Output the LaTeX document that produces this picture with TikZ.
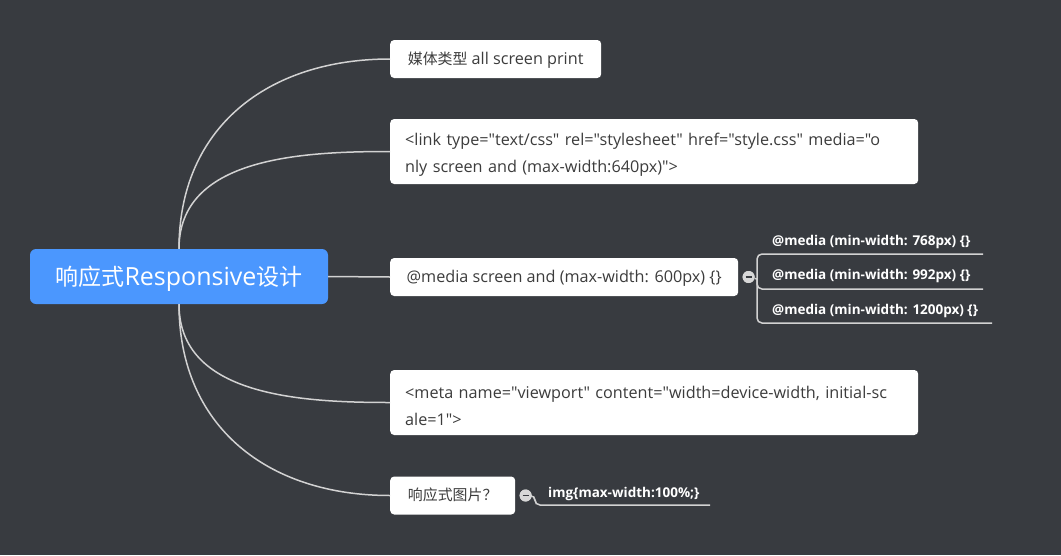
\documentclass[tikz,border=0pt]{standalone}
\usepackage{fontspec}
\setmainfont{Open Sans}[Ligatures = TeXOff]
\newfontfamily\cjk{Noto Sans CJK SC}[Scale = 0.92]
\usepackage{tikz}
\usetikzlibrary{positioning}

\definecolor{bgdark}{RGB}{56,59,64}
\definecolor{rootblue}{RGB}{75,151,254}
\definecolor{linegrey}{RGB}{210,210,210}
\definecolor{leaftext}{RGB}{60,60,60}
\definecolor{knobgrey}{RGB}{215,215,215}

\tikzset{
	root/.style = {fill = rootblue, rounded corners = 6pt, text = white, font = \fontsize{25}{26}\selectfont, minimum width = 298pt, minimum height = 55pt, text height = 18pt, text depth = 1pt},
	leaf/.style = {fill = white, rounded corners = 4pt, text = leaftext, font = \fontsize{16.2}{27}\selectfont, anchor = west, inner xsep = 15pt, minimum height = 38pt, align = left},
	oneline/.style = {text height = 12pt, text depth = 2pt},
	sub/.style = {text = white, font = \bfseries\fontsize{13.5}{15}\selectfont, anchor = west, inner sep = 0pt},
	link/.style = {draw = linegrey, line width = 1.5pt},
	knob/.style = {circle, fill = knobgrey, minimum size = 12pt, inner sep = 0pt}
}
\newcommand\firstline{\rule{0pt}{18.5pt}}

\begin{document}
\begin{tikzpicture}[x = 1pt, y = -1pt]
		\fill [bgdark] (0, 0) rectangle (1061, 555);
		\useasboundingbox (0, 0) rectangle (1061, 555);
		\node [root] (root) at (179, 276.5) {{\cjk 响应式}Responsive{\cjk 设计}};
		\node [leaf, oneline, minimum width = 211pt] (l1) at (390, 59) {{\cjk 媒体类型} all screen print};
		\node [leaf, text width = 498pt, minimum height = 65pt] (l2) at (390, 151.5) {\firstline<link type="text/css" rel="stylesheet" href="style.css" media="o\\nly screen and (max-width:640px)">};
		\node [leaf, oneline, minimum width = 348pt] (l3) at (390, 277) {@media screen and (max-width: 600px) \{\}};
		\node [leaf, text width = 498pt, minimum height = 65pt] (l4) at (390, 402.5) {\firstline<meta name="viewport" content="width=device-width, initial-sc\\ale=1">};
		\node [leaf, oneline, minimum width = 125pt] (l5) at (390, 495.5) {{\cjk 响应式图片？}};
		\draw [link] (root.north) to [out = 90, in = 180, looseness = 1.1] (l1.west);
		\draw [link] (root.north) to [out = 90, in = 180] (l2.west);
		\draw [link] (root.east) -- (l3.west);
		\draw [link] (root.south) to [out = -90, in = 180] (l4.west);
		\draw [link] (root.south) to [out = -90, in = 180, looseness = 1.1] (l5.west);
		% media queries
		\node [knob, right = 4pt of l3.east] (k3) {};
		\coordinate (fork3) at (757, 279);
		\node [sub] (s1) at (772, 242) {@media (min-width: 768px) \{\}};
		\node [sub] (s2) at (772, 276) {@media (min-width: 992px) \{\}};
		\node [sub] (s3) at (772, 311) {@media (min-width: 1200px) \{\}};
		\coordinate (u1) at (983, 254);
		\coordinate (u2) at (983, 289);
		\coordinate (u3) at (992, 323);
		\draw [link] (k3) -- (fork3);
		\draw [link, rounded corners = 5pt] (fork3) |- (u1);
		\draw [link, rounded corners = 5pt] (fork3) |- (u2);
		\draw [link, rounded corners = 5pt] (fork3) |- (u3);
		\node [knob] at (k3) {};
		\draw [bgdark, line width = 1.5pt] ([xshift = -3pt]k3.center) -- ([xshift = 3pt]k3.center);
		% image
		\node [knob, right = 4pt of l5.east] (k5) {};
		\coordinate (fork5) at (535, 495.5);
		\node [sub] (s5) at (548, 494) {img\{max-width:100\%;\}};
		\coordinate (u5) at (710, 505);
		\draw [link, rounded corners = 5pt] (k5) -- (fork5) |- (u5);
		\node [knob] at (k5) {};
		\draw [bgdark, line width = 1.5pt] ([xshift = -3pt]k5.center) -- ([xshift = 3pt]k5.center);
	\end{tikzpicture}
\end{document}
